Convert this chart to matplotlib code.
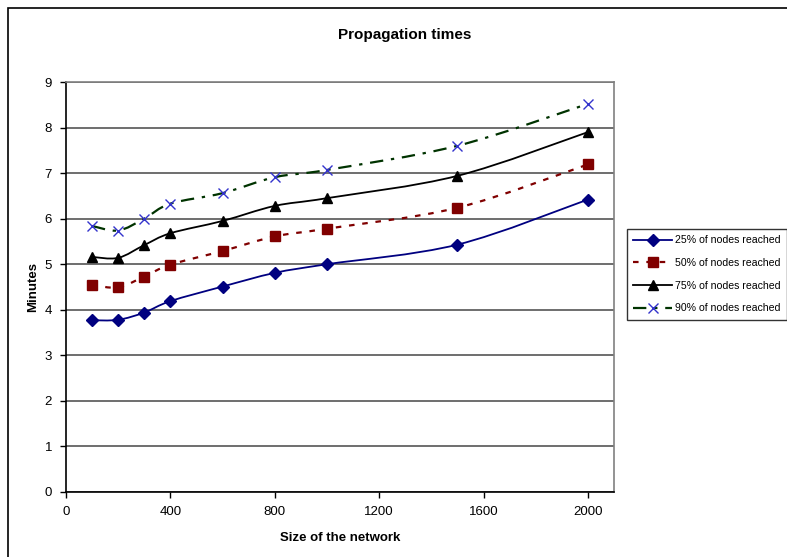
import matplotlib
matplotlib.use("Agg")
import matplotlib.pyplot as plt
from matplotlib.patches import Rectangle, PathPatch
from matplotlib.path import Path
from matplotlib.lines import Line2D

plt.rcParams['font.family'] = ['Liberation Sans', 'DejaVu Sans']

sizes = [100, 200, 300, 400, 600, 800, 1000, 1500, 2000]
p25 = [3.77, 3.78, 3.94, 4.19, 4.51, 4.81, 5.00, 5.43, 6.42]
p50 = [4.55, 4.49, 4.73, 4.99, 5.29, 5.61, 5.78, 6.24, 7.19]
p75 = [5.16, 5.14, 5.42, 5.68, 5.95, 6.28, 6.45, 6.94, 7.90]
p90 = [5.84, 5.74, 6.00, 6.33, 6.56, 6.91, 7.07, 7.60, 8.52]
labels = ["25% of nodes reached", "50% of nodes reached",
          "75% of nodes reached", "90% of nodes reached"]
x_ticks = [0, 400, 800, 1200, 1600, 2000]
y_ticks = list(range(0, 10))

W, H = 787, 557
fig = plt.figure(figsize=(W / 100, H / 100), dpi=100)
fig.patch.set_facecolor('white')

# outer chart frame
fig.patches.append(Rectangle((8 / W, -0.1), 1.2, 1.1 - 8 / H,
                             transform=fig.transFigure, fill=False,
                             edgecolor='black', linewidth=1.2, clip_on=False))

ax = fig.add_axes([66 / W, (H - 492) / H, (614 - 66) / W, (492 - 82) / H])
ax.set_xlim(0, 2100)
ax.set_ylim(0, 9)


def smooth_path(xs, ys):
    """Excel-style smoothed line: cubic Bezier through the data points."""
    pts = list(zip(xs, ys))
    n = len(pts)
    verts = [pts[0]]
    codes = [Path.MOVETO]
    for i in range(n - 1):
        p0 = pts[i - 1] if i > 0 else pts[i]
        p1 = pts[i]
        p2 = pts[i + 1]
        p3 = pts[i + 2] if i + 2 < n else pts[i + 1]
        c1 = (p1[0] + (p2[0] - p0[0]) / 6, p1[1] + (p2[1] - p0[1]) / 6)
        c2 = (p2[0] - (p3[0] - p1[0]) / 6, p2[1] - (p3[1] - p1[1]) / 6)
        verts += [c1, c2, p2]
        codes += [Path.CURVE4] * 3
    return Path(verts, codes)


styles = [
    dict(color='#000080', ls='-', lw=1.3, marker='D', ms=6, mfc='#000080', mec='#000080', mew=1),
    dict(color='#800000', ls=(0, (2.5, 3.5)), lw=1.6, marker='s', ms=6.5, mfc='#800000', mec='#800000', mew=1),
    dict(color='black', ls='-', lw=1.3, marker='^', ms=7, mfc='black', mec='black', mew=1),
    dict(color='#003300', ls=(0, (6, 3.5, 1.5, 3.5)), lw=1.6, marker='x', ms=7, mfc='none', mec='#3333cc', mew=1.0),
]
series = [p25, p50, p75, p90]
handles = []
for ys, st, lab in zip(series, styles, labels):
    ax.add_patch(PathPatch(smooth_path(sizes, ys), facecolor='none',
                           edgecolor=st['color'], linestyle=st['ls'],
                           linewidth=st['lw'], zorder=3))
    ax.plot(sizes, ys, linestyle='none', marker=st['marker'], markersize=st['ms'],
            markerfacecolor=st['mfc'], markeredgecolor=st['mec'],
            markeredgewidth=st['mew'], zorder=4)
    handles.append(Line2D([], [], color=st['color'], linestyle=st['ls'],
                          linewidth=st['lw'], marker=st['marker'],
                          markersize=st['ms'], markerfacecolor=st['mfc'],
                          markeredgecolor=st['mec'], markeredgewidth=st['mew'],
                          label=lab))

ax.set_xticks(x_ticks)
ax.set_yticks(y_ticks)
ax.yaxis.grid(True, color='#555555', linewidth=1.2)
ax.set_axisbelow(True)
for side in ['top', 'right']:
    ax.spines[side].set_color('#808080')
    ax.spines[side].set_linewidth(1.2)
for side in ['left', 'bottom']:
    ax.spines[side].set_color('black')
    ax.spines[side].set_linewidth(1.2)
ax.tick_params(axis='both', direction='out', length=4, width=1, labelsize=9.5,
               color='black', pad=6)

ax.set_xlabel("Size of the network", fontsize=9.5, fontweight='bold', labelpad=10)
ax.set_ylabel("Minutes", fontsize=9.5, fontweight='bold', labelpad=4)
fig.text((331 + 478) / 2 / W, 1 - 35 / H, "Propagation times", fontsize=11,
         fontweight='bold', ha='center', va='center')

leg = fig.legend(handles=handles, loc='upper left',
                 bbox_to_anchor=(627 / W, 1 - 229 / H),
                 fontsize=7.6, frameon=True, fancybox=False, edgecolor='black',
                 handlelength=3.7, borderpad=0.6, labelspacing=1.2,
                 handletextpad=0.25, borderaxespad=0)
leg.get_frame().set_linewidth(1.0)

fig.savefig("out.png", dpi=100)
